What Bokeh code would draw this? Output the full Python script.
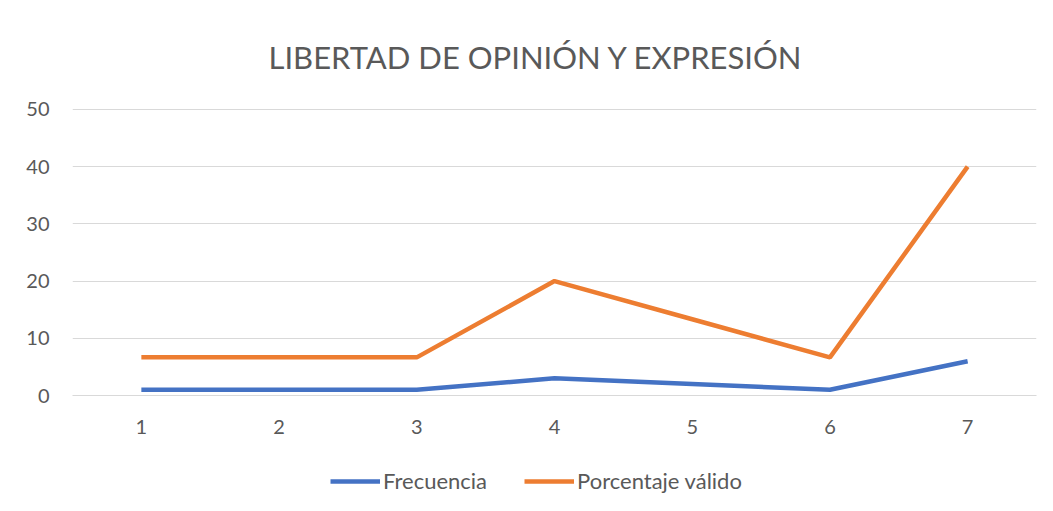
from bokeh.plotting import figure
from bokeh.layouts import column
from bokeh.models import FixedTicker, Legend, LegendItem, Range1d, Title
from bokeh.embed import file_html
from bokeh.resources import INLINE

categories = [1, 2, 3, 4, 5, 6, 7]
frecuencia = [1, 1, 1, 3, 2, 1, 6]
porcentaje = [6.67, 6.67, 6.67, 20.0, 13.33, 6.67, 40.0]
y_ticks = [0, 10, 20, 30, 40, 50]
series_names = ["Frecuencia", "Porcentaje válido"]

FONT = "Lato"
GREY = "#595959"
BLUE = "#4472C4"
ORANGE = "#ED7D31"

p = figure(frame_width=964, frame_height=287, output_backend="svg", toolbar_location=None,
           x_range=Range1d(0.5, 7.5), y_range=Range1d(0, 50.17),
           min_border_left=72, min_border_right=9, min_border_top=108, min_border_bottom=50)
p.outline_line_color = None
p.background_fill_color = "white"
p.border_fill_color = "white"

t = Title(text="LIBERTAD DE OPINIÓN Y EXPRESIÓN", align="left", text_font=FONT,
          text_font_size="31px", text_font_style="normal", text_color=GREY,
          standoff=66, offset=196)
p.add_layout(t, "above")

p.xaxis.ticker = FixedTicker(ticks=categories)
p.yaxis.ticker = FixedTicker(ticks=y_ticks)
for ax in (p.xaxis[0], p.yaxis[0]):
    ax.major_tick_line_color = None
    ax.minor_tick_line_color = None
    ax.major_label_text_font = FONT
    ax.major_label_text_font_size = "20px"
    ax.major_label_text_color = GREY
p.yaxis.axis_line_color = None
p.xaxis.axis_line_color = "#d9d9d9"
p.xaxis.major_label_standoff = 18
p.yaxis.major_label_standoff = 17
p.xgrid.grid_line_color = None
p.ygrid.grid_line_color = "#d9d9d9"
p.ygrid.grid_line_width = 1

p.line(categories, frecuencia, line_color=BLUE, line_width=4.5)
p.line(categories, porcentaje, line_color=ORANGE, line_width=4.5)

# legend strip below the chart
pl = figure(width=1045, height=66, output_backend="svg", toolbar_location=None,
            x_axis_location=None, y_axis_location=None, min_border=0,
            x_range=Range1d(0.5, 7.5), y_range=Range1d(-100, -99))
pl.outline_line_color = None
pl.xgrid.grid_line_color = None
pl.ygrid.grid_line_color = None
pl.background_fill_color = "white"
pl.border_fill_color = "white"
l1 = pl.line(categories, frecuencia, line_color=BLUE, line_width=4.5)
l2 = pl.line(categories, porcentaje, line_color=ORANGE, line_width=4.5)

legend = Legend(items=[LegendItem(label=series_names[0], renderers=[l1]),
                       LegendItem(label=series_names[1], renderers=[l2])],
                orientation="horizontal", location=(258, 17),
                label_text_font=FONT, label_text_font_size="22px", label_text_color=GREY,
                glyph_width=50, glyph_height=24, spacing=37, label_standoff=3,
                border_line_color=None, background_fill_alpha=0, margin=0, padding=0)
pl.add_layout(legend, "center")

layout = column(p, pl, spacing=0)
open("out.html", "w").write(file_html(layout, INLINE))
